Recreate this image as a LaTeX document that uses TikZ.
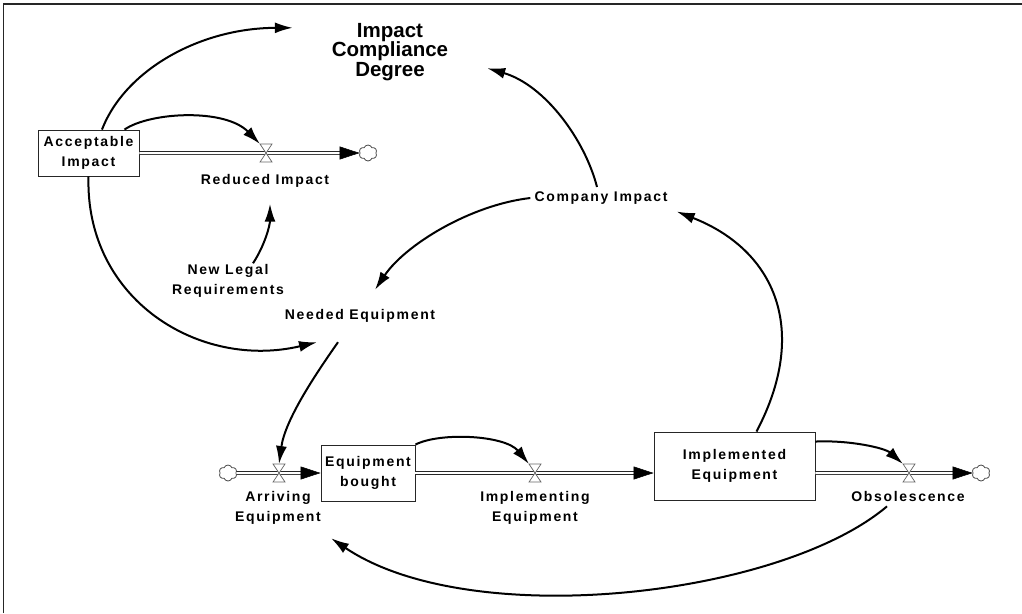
\documentclass[tikz,border=0pt]{standalone}
\usepackage{fontspec}
\setmainfont{Liberation Sans}
\newfontfamily\labelfont{Liberation Sans}[LetterSpace=12]
\usetikzlibrary{arrows.meta,shapes.symbols,calc}
\begin{document}
\begin{tikzpicture}[x=1pt,y=-1pt,
  every node/.style={font=\labelfont\bfseries\fontsize{14}{20}\selectfont},
  stock/.style={draw=black!85, line width=0.9pt, align=center, inner sep=0pt},
  varlabel/.style={align=center, inner sep=1pt},
  titlelabel/.style={align=center, inner sep=0pt, font=\bfseries\fontsize{20.5}{19.5}\selectfont},
  valve/.style={minimum width=12pt, minimum height=18pt, inner sep=0pt, outer sep=0pt},
  valveglyph/.style={draw=black!60, fill=white, line width=0.7pt, line join=miter},
  cloudy/.style={cloud, cloud puffs=6, cloud puff arc=140, draw=black!70, line width=0.8pt,
    minimum width=18pt, minimum height=16pt, inner sep=0pt},
  pipe/.style={draw=black!85, double=white, double distance=2pt, line width=0.9pt},
  flowhead/.style={-{Triangle[length=20pt,width=13pt]}, line width=0.5pt, black},
  link/.style={-{Latex[length=18pt,width=11pt]}, line width=2pt, black}]

\useasboundingbox (0,0) rectangle (1022,613);

% outer frame (only top and left edges are in view)
\draw[line width=1.5pt, black!85] (3.5,613) -- (3.5,4) -- (1022,4);

% stocks
\node[stock, minimum width=101pt, minimum height=46pt] (ai) at (88.5,153) {Acceptable\\Impact};
\node[stock, minimum width=94pt, minimum height=56pt] (eb) at (368,473) {Equipment\\bought};
\node[stock, minimum width=161pt, minimum height=68pt] (ie) at (734.5,466) {Implemented\\Equipment};

% sources and sinks
\node[cloudy] (cl1) at (368,153) {};
\node[cloudy] (cl2) at (228,473) {};
\node[cloudy] (cl3) at (981,473) {};

% valve positions
\node[valve] (ri) at (266,153) {};
\node[valve] (arr) at (279,473) {};
\node[valve] (iev) at (535,473) {};
\node[valve] (obv) at (909,473) {};

% labels and auxiliary variables
\node[titlelabel, minimum width=194pt, minimum height=60pt] (icd) at (390,52) {Impact\\Compliance\\Degree};
\node[varlabel] (ril) at (265,181) {Reduced Impact};
\node[varlabel] (nlr) at (228,281) {New Legal\\Requirements};
\node[varlabel, minimum height=52pt] (ne) at (360,316) {Needed Equipment};
\node[varlabel] (ci) at (601,198) {Company Impact};
\node[varlabel] (arrl) at (278,508) {Arriving\\Equipment};
\node[varlabel] (ieml) at (535,508) {Implementing\\Equipment};
\node[varlabel] (obsl) at (908,496) {Obsolescence};

% flow pipes
\coordinate (ieIn) at (eb.east -| ie.west);
\coordinate (ieOut) at (obv -| ie.east);
\draw[pipe, shorten >=10pt] (ai.east) -- (cl1.west);
\draw[pipe, shorten >=10pt] (cl2.east) -- (eb.west);
\draw[pipe, shorten >=10pt] (eb.east) -- (ieIn);
\draw[pipe, shorten >=10pt] (ieOut) -- (cl3.west);

% valves
\foreach \v in {ri,arr,iev,obv}
  \draw[valveglyph] (\v.north west) -- (\v.north east) -- (\v.south west) -- (\v.south east) -- cycle;

% flow arrowheads
\draw[flowhead] ([xshift=-20pt]cl1.west) -- (cl1.west);
\draw[flowhead] ([xshift=-20pt]eb.west) -- (eb.west);
\draw[flowhead] ([xshift=-20pt]ieIn) -- (ieIn);
\draw[flowhead] ([xshift=-20pt]cl3.west) -- (cl3.west);

% causal links
\draw[link] ([xshift=13.5pt]ai.north) .. controls (125,70) and (200,28) .. ([yshift=-6pt]icd.north west);
\draw[link] ([xshift=36pt]ai.north) .. controls (150,112) and (225,108) .. (ri.north west);
\draw[link] (ai.south) .. controls (85,300) and (200,370) .. ([xshift=-43pt]ne.south);
\draw[link] ([xshift=25pt]nlr.north) .. controls (265,245) and (270,225) .. ([xshift=5pt,yshift=-15pt]ril.south);
\draw[link] ([xshift=-4pt,yshift=3.5pt]ci.north) .. controls (585,140) and (545,85) .. ([yshift=14pt]icd.south east);
\draw[link] ([xshift=-3pt]ci.west) .. controls (470,205) and (405,245) .. ([xshift=15pt]ne.north);
\draw[link] ([xshift=22pt]ie.north) .. controls (810,330) and (775,250) .. ([xshift=8pt,yshift=-6pt]ci.south east);
\draw[link] ([xshift=-22pt]ne.south) .. controls (315,375) and (285,420) .. (arr.north);
\draw[link] (eb.north east) .. controls (440,432) and (505,435) .. (iev.north west);
\draw[link] ([yshift=-10pt]ie.north east) .. controls (850,440) and (885,448) .. (obv.north west);
\draw[link] ([xshift=-21pt,yshift=-4pt]obsl.south) .. controls (780,597) and (470,632) .. ([xshift=9pt,yshift=-12.5pt]arrl.south east);
\end{tikzpicture}
\end{document}
